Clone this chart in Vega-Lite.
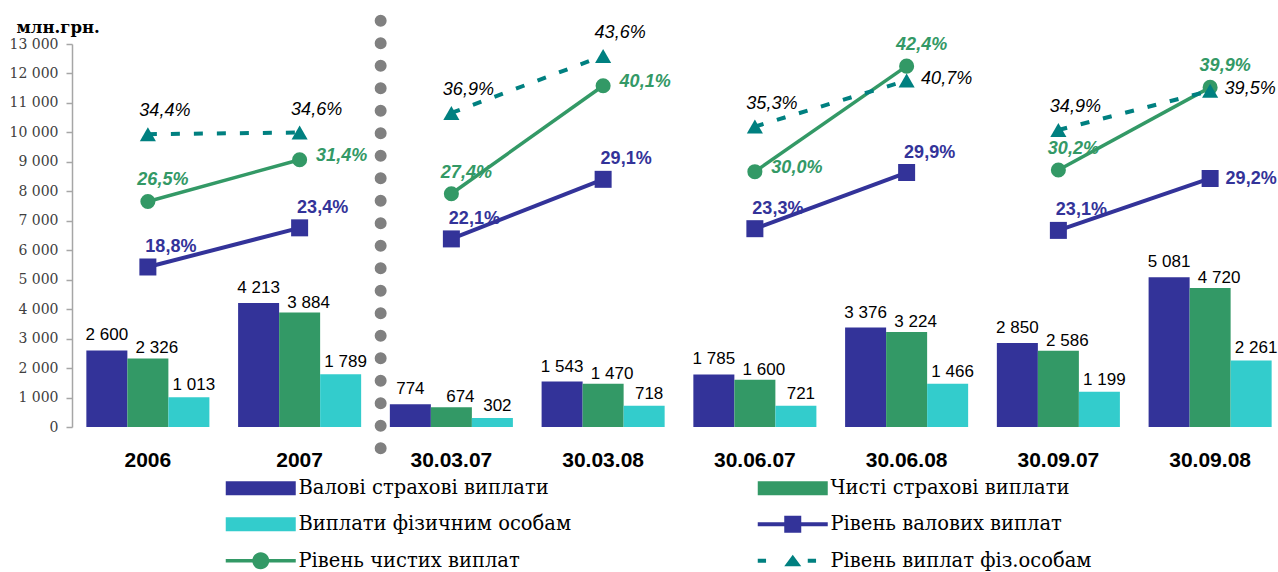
{
  "$schema": "https://vega.github.io/schema/vega-lite/v6.json",
  "width": 1206,
  "height": 383,
  "autosize": {"type": "none"},
  "padding": {"left": 72, "top": 44, "right": 0, "bottom": 145},
  "background": "white",
  "config": {
    "view": {"stroke": null},
    "locale": {"number": {"decimal": ",", "thousands": " ", "grouping": [3], "currency": ["", ""]}},
    "axisY": {
      "labelFont": "DejaVu Serif", "labelFontSize": 14, "labelColor": "#404040", "labelPadding": 8,
      "domainColor": "#A6A6A6", "domainWidth": 1.5, "tickColor": "#A6A6A6", "tickWidth": 1.5, "tickSize": 6,
      "titleFont": "DejaVu Serif", "titleFontSize": 16.5, "titleFontWeight": "bold", "titleColor": "#000000"
    },
    "legend": {"labelFont": "DejaVu Serif"}
  },
  "datasets": {
    "bars": [
      {"p": "2006", "s": "Валові страхові виплати", "v": 2600},
      {"p": "2006", "s": "Чисті страхові виплати", "v": 2326},
      {"p": "2006", "s": "Виплати фізичним особам", "v": 1013},
      {"p": "2007", "s": "Валові страхові виплати", "v": 4213},
      {"p": "2007", "s": "Чисті страхові виплати", "v": 3884},
      {"p": "2007", "s": "Виплати фізичним особам", "v": 1789},
      {"p": "30.03.07", "s": "Валові страхові виплати", "v": 774},
      {"p": "30.03.07", "s": "Чисті страхові виплати", "v": 674},
      {"p": "30.03.07", "s": "Виплати фізичним особам", "v": 302},
      {"p": "30.03.08", "s": "Валові страхові виплати", "v": 1543},
      {"p": "30.03.08", "s": "Чисті страхові виплати", "v": 1470},
      {"p": "30.03.08", "s": "Виплати фізичним особам", "v": 718},
      {"p": "30.06.07", "s": "Валові страхові виплати", "v": 1785},
      {"p": "30.06.07", "s": "Чисті страхові виплати", "v": 1600},
      {"p": "30.06.07", "s": "Виплати фізичним особам", "v": 721},
      {"p": "30.06.08", "s": "Валові страхові виплати", "v": 3376},
      {"p": "30.06.08", "s": "Чисті страхові виплати", "v": 3224},
      {"p": "30.06.08", "s": "Виплати фізичним особам", "v": 1466},
      {"p": "30.09.07", "s": "Валові страхові виплати", "v": 2850},
      {"p": "30.09.07", "s": "Чисті страхові виплати", "v": 2586},
      {"p": "30.09.07", "s": "Виплати фізичним особам", "v": 1199},
      {"p": "30.09.08", "s": "Валові страхові виплати", "v": 5081},
      {"p": "30.09.08", "s": "Чисті страхові виплати", "v": 4720},
      {"p": "30.09.08", "s": "Виплати фізичним особам", "v": 2261}
    ],
    "rates": [
      {"p": "2006", "g": "A", "s": "Рівень валових виплат", "r": 0.188},
      {"p": "2007", "g": "A", "s": "Рівень валових виплат", "r": 0.234},
      {"p": "30.03.07", "g": "B", "s": "Рівень валових виплат", "r": 0.221},
      {"p": "30.03.08", "g": "B", "s": "Рівень валових виплат", "r": 0.291},
      {"p": "30.06.07", "g": "C", "s": "Рівень валових виплат", "r": 0.233},
      {"p": "30.06.08", "g": "C", "s": "Рівень валових виплат", "r": 0.299},
      {"p": "30.09.07", "g": "D", "s": "Рівень валових виплат", "r": 0.231},
      {"p": "30.09.08", "g": "D", "s": "Рівень валових виплат", "r": 0.292},
      {"p": "2006", "g": "A", "s": "Рівень чистих виплат", "r": 0.265},
      {"p": "2007", "g": "A", "s": "Рівень чистих виплат", "r": 0.314},
      {"p": "30.03.07", "g": "B", "s": "Рівень чистих виплат", "r": 0.274},
      {"p": "30.03.08", "g": "B", "s": "Рівень чистих виплат", "r": 0.401},
      {"p": "30.06.07", "g": "C", "s": "Рівень чистих виплат", "r": 0.300},
      {"p": "30.06.08", "g": "C", "s": "Рівень чистих виплат", "r": 0.424},
      {"p": "30.09.07", "g": "D", "s": "Рівень чистих виплат", "r": 0.302},
      {"p": "30.09.08", "g": "D", "s": "Рівень чистих виплат", "r": 0.399},
      {"p": "2006", "g": "A", "s": "Рівень виплат фіз.особам", "r": 0.344},
      {"p": "2007", "g": "A", "s": "Рівень виплат фіз.особам", "r": 0.346},
      {"p": "30.03.07", "g": "B", "s": "Рівень виплат фіз.особам", "r": 0.369},
      {"p": "30.03.08", "g": "B", "s": "Рівень виплат фіз.особам", "r": 0.436},
      {"p": "30.06.07", "g": "C", "s": "Рівень виплат фіз.особам", "r": 0.353},
      {"p": "30.06.08", "g": "C", "s": "Рівень виплат фіз.особам", "r": 0.407},
      {"p": "30.09.07", "g": "D", "s": "Рівень виплат фіз.особам", "r": 0.349},
      {"p": "30.09.08", "g": "D", "s": "Рівень виплат фіз.особам", "r": 0.395}
    ]
  },
  "layer": [
    {
      "data": {"name": "bars"},
      "mark": {"type": "bar"},
      "encoding": {
        "x": {
          "field": "p", "type": "nominal",
          "scale": {"domain": ["2006", "2007", "30.03.07", "30.03.08", "30.06.07", "30.06.08", "30.09.07", "30.09.08"], "range": [0, 1214], "paddingInner": 0, "paddingOuter": 0},
          "axis": {"title": null, "domain": false, "ticks": false, "labelAngle": 0, "labelFont": "Liberation Sans", "labelFontSize": 21, "labelFontWeight": "bold", "labelColor": "#000000", "labelPadding": 22}
        },
        "xOffset": {
          "field": "s", "type": "nominal",
          "scale": {"domain": ["Валові страхові виплати", "Чисті страхові виплати", "Виплати фізичним особам"], "paddingInner": 0, "paddingOuter": 0.35}
        },
        "y": {
          "field": "v", "type": "quantitative",
          "scale": {"domain": [0, 13000], "nice": false},
          "axis": {
            "orient": "left",
            "values": [0, 1000, 2000, 3000, 4000, 5000, 6000, 7000, 8000, 9000, 10000, 11000, 12000, 13000],
            "format": ",d", "labelOverlap": false, "grid": false,
            "labelFont": "DejaVu Serif", "labelFontSize": 14, "labelColor": "#404040", "labelPadding": 8,
            "domainColor": "#A6A6A6", "domainWidth": 1.5, "tickColor": "#A6A6A6", "tickWidth": 1.5, "tickSize": 6,
            "title": "млн.грн.", "titleAngle": 0, "titleX": -56, "titleY": -12, "titleAlign": "left", "titleBaseline": "alphabetic",
            "titleFont": "DejaVu Serif", "titleFontSize": 16.5, "titleFontWeight": "bold", "titleColor": "#000000"
          }
        },
        "color": {
          "field": "s", "type": "nominal",
          "scale": {
            "domain": ["Валові страхові виплати", "Чисті страхові виплати", "Виплати фізичним особам", "Рівень валових виплат", "Рівень чистих виплат", "Рівень виплат фіз.особам"],
            "range": ["#333399", "#339966", "#33CCCC", "#333399", "#339966", "#008080"]
          },
          "legend": {
            "orient": "none", "legendX": 149, "legendY": 434, "columns": 2, "direction": "horizontal",
            "title": null, "padding": 0,
            "labelFont": "DejaVu Serif", "labelFontSize": 19.5, "labelColor": "#000000", "labelLimit": 500, "labelOffset": 58,
            "symbolSize": 100, "columnPadding": 181, "rowPadding": 15.5,
            "encode": {
              "symbols": {
                "update": {
                  "shape": {"signal": "datum.value == 'Рівень валових виплат' ? 'M-1,-0.4H13V0.4H-1Z M4.3,-1.7H7.7V1.7H4.3Z' : datum.value == 'Рівень чистих виплат' ? 'M-1,-0.35H13V0.35H-1Z M4.3,0A1.7,1.7 0 1,1 7.7,0A1.7,1.7 0 1,1 4.3,0Z' : datum.value == 'Рівень виплат фіз.особам' ? 'M-1,-0.4H0.66V0.4H-1Z M9,-0.4H10.66V0.4H9Z M6,-1.2L7.7,1.1H4.3Z' : 'M-1,-1.4H13V1.4H-1Z'"},
                  "fill": {"scale": "color", "field": "value"},
                  "stroke": {"value": "transparent"},
                  "strokeWidth": {"value": 0},
                  "opacity": {"value": 1}
                }
              }
            }
          }
        }
      }
    },
    {
      "data": {"name": "bars"},
      "transform": [{"filter": "datum.s == 'Валові страхові виплати'"}],
      "mark": {"type": "text", "baseline": "alphabetic", "align": "center", "dx": 0, "dy": -10, "fontSize": 17, "font": "Liberation Sans", "color": "#000000"},
      "encoding": {
        "x": {"field": "p", "type": "nominal"},
        "xOffset": {"field": "s", "type": "nominal"},
        "y": {"field": "v", "type": "quantitative", "scale": {"domain": [0, 13000], "nice": false}, "axis": null},
        "text": {"field": "v", "type": "quantitative", "format": ",d"}
      }
    },
    {
      "data": {"name": "bars"},
      "transform": [{"filter": "datum.s == 'Чисті страхові виплати'"}],
      "mark": {"type": "text", "baseline": "alphabetic", "align": "center", "dx": 9, "dy": -5, "fontSize": 17, "font": "Liberation Sans", "color": "#000000"},
      "encoding": {
        "x": {"field": "p", "type": "nominal"},
        "xOffset": {"field": "s", "type": "nominal"},
        "y": {"field": "v", "type": "quantitative", "scale": {"domain": [0, 13000], "nice": false}, "axis": null},
        "text": {"field": "v", "type": "quantitative", "format": ",d"}
      }
    },
    {
      "data": {"name": "bars"},
      "transform": [{"filter": "datum.s == 'Виплати фізичним особам'"}],
      "mark": {"type": "text", "baseline": "alphabetic", "align": "center", "dx": 5, "dy": -7, "fontSize": 17, "font": "Liberation Sans", "color": "#000000"},
      "encoding": {
        "x": {"field": "p", "type": "nominal"},
        "xOffset": {"field": "s", "type": "nominal"},
        "y": {"field": "v", "type": "quantitative", "scale": {"domain": [0, 13000], "nice": false}, "axis": null},
        "text": {"field": "v", "type": "quantitative", "format": ",d"}
      }
    },
    {
      "data": {"values": [{"sep": "2007 | 30.03.07"}]},
      "mark": {"type": "rule", "strokeDash": [0, 22.5], "strokeCap": "round", "strokeWidth": 12, "color": "#808080"},
      "encoding": {
        "x": {"datum": "30.03.07", "bandPosition": 0.034},
        "y": {"datum": 13791, "type": "quantitative", "scale": {"domain": [0, 13000], "nice": false}, "axis": null},
        "y2": {"datum": -985}
      }
    },
    {
      "data": {"name": "rates"},
      "transform": [{"filter": "datum.s == 'Рівень чистих виплат'"}],
      "mark": {"type": "line", "strokeWidth": 3.5, "point": {"shape": "circle", "size": 227, "filled": true, "opacity": 1}},
      "encoding": {
        "x": {"field": "p", "type": "nominal"},
        "y": {"field": "r", "type": "quantitative", "scale": {"domain": [0, 0.45], "nice": false}, "axis": null},
        "detail": {"field": "g"},
        "color": {"field": "s", "type": "nominal"}
      }
    },
    {
      "data": {"name": "rates"},
      "transform": [{"filter": "datum.s == 'Рівень виплат фіз.особам'"}],
      "mark": {"type": "line", "strokeWidth": 4, "strokeDash": [9, 14], "point": {"shape": "triangle-up", "size": 260, "filled": true, "opacity": 1}},
      "encoding": {
        "x": {"field": "p", "type": "nominal"},
        "y": {"field": "r", "type": "quantitative", "scale": {"domain": [0, 0.45], "nice": false}, "axis": null},
        "detail": {"field": "g"},
        "color": {"field": "s", "type": "nominal"}
      }
    },
    {
      "data": {"name": "rates"},
      "transform": [{"filter": "datum.s == 'Рівень валових виплат'"}],
      "mark": {"type": "line", "strokeWidth": 4, "point": {"shape": "square", "size": 289, "filled": true, "opacity": 1}},
      "encoding": {
        "x": {"field": "p", "type": "nominal"},
        "y": {"field": "r", "type": "quantitative", "scale": {"domain": [0, 0.45], "nice": false}, "axis": null},
        "detail": {"field": "g"},
        "color": {"field": "s", "type": "nominal"}
      }
    },
    {
      "data": {"name": "rates"},
      "transform": [{"filter": "datum.s == 'Рівень валових виплат' && datum.p != '30.09.08'"}],
      "mark": {"type": "text", "baseline": "alphabetic", "align": "center", "dx": 23, "dy": -15, "fontSize": 18, "fontWeight": "bold", "font": "Liberation Sans", "color": "#333399"},
      "encoding": {
        "x": {"field": "p", "type": "nominal"},
        "y": {"field": "r", "type": "quantitative", "scale": {"domain": [0, 0.45], "nice": false}, "axis": null},
        "text": {"field": "r", "type": "quantitative", "format": ".1%"}
      }
    },
    {
      "data": {"name": "rates"},
      "transform": [{"filter": "datum.s == 'Рівень валових виплат' && datum.p == '30.09.08'"}],
      "mark": {"type": "text", "baseline": "alphabetic", "align": "center", "dx": 41, "dy": 6, "fontSize": 18, "fontWeight": "bold", "font": "Liberation Sans", "color": "#333399"},
      "encoding": {
        "x": {"field": "p", "type": "nominal"},
        "y": {"field": "r", "type": "quantitative", "scale": {"domain": [0, 0.45], "nice": false}, "axis": null},
        "text": {"field": "r", "type": "quantitative", "format": ".1%"}
      }
    },
    {
      "data": {"name": "rates"},
      "transform": [{"filter": "datum.s == 'Рівень чистих виплат' && datum.p != '2007' && datum.p != '30.03.08' && datum.p != '30.06.07'"}],
      "mark": {"type": "text", "baseline": "alphabetic", "align": "center", "dx": 15, "dy": -16, "fontSize": 18, "fontWeight": "bold", "fontStyle": "italic", "font": "Liberation Sans", "color": "#339966"},
      "encoding": {
        "x": {"field": "p", "type": "nominal"},
        "y": {"field": "r", "type": "quantitative", "scale": {"domain": [0, 0.45], "nice": false}, "axis": null},
        "text": {"field": "r", "type": "quantitative", "format": ".1%"}
      }
    },
    {
      "data": {"name": "rates"},
      "transform": [{"filter": "datum.s == 'Рівень чистих виплат' && (datum.p == '2007' || datum.p == '30.03.08' || datum.p == '30.06.07')"}],
      "mark": {"type": "text", "baseline": "alphabetic", "align": "center", "dx": 42, "dy": 1, "fontSize": 18, "fontWeight": "bold", "fontStyle": "italic", "font": "Liberation Sans", "color": "#339966"},
      "encoding": {
        "x": {"field": "p", "type": "nominal"},
        "y": {"field": "r", "type": "quantitative", "scale": {"domain": [0, 0.45], "nice": false}, "axis": null},
        "text": {"field": "r", "type": "quantitative", "format": ".1%"}
      }
    },
    {
      "data": {"name": "rates"},
      "transform": [{"filter": "datum.s == 'Рівень виплат фіз.особам' && datum.p != '30.06.08' && datum.p != '30.09.08'"}],
      "mark": {"type": "text", "baseline": "alphabetic", "align": "center", "dx": 17, "dy": -18, "fontSize": 18, "fontStyle": "italic", "font": "Liberation Sans", "color": "#000000"},
      "encoding": {
        "x": {"field": "p", "type": "nominal"},
        "y": {"field": "r", "type": "quantitative", "scale": {"domain": [0, 0.45], "nice": false}, "axis": null},
        "text": {"field": "r", "type": "quantitative", "format": ".1%"}
      }
    },
    {
      "data": {"name": "rates"},
      "transform": [{"filter": "datum.s == 'Рівень виплат фіз.особам' && (datum.p == '30.06.08' || datum.p == '30.09.08')"}],
      "mark": {"type": "text", "baseline": "alphabetic", "align": "center", "dx": 40, "dy": 3, "fontSize": 18, "fontStyle": "italic", "font": "Liberation Sans", "color": "#000000"},
      "encoding": {
        "x": {"field": "p", "type": "nominal"},
        "y": {"field": "r", "type": "quantitative", "scale": {"domain": [0, 0.45], "nice": false}, "axis": null},
        "text": {"field": "r", "type": "quantitative", "format": ".1%"}
      }
    }
  ],
  "resolve": {"scale": {"y": "independent"}}
}
